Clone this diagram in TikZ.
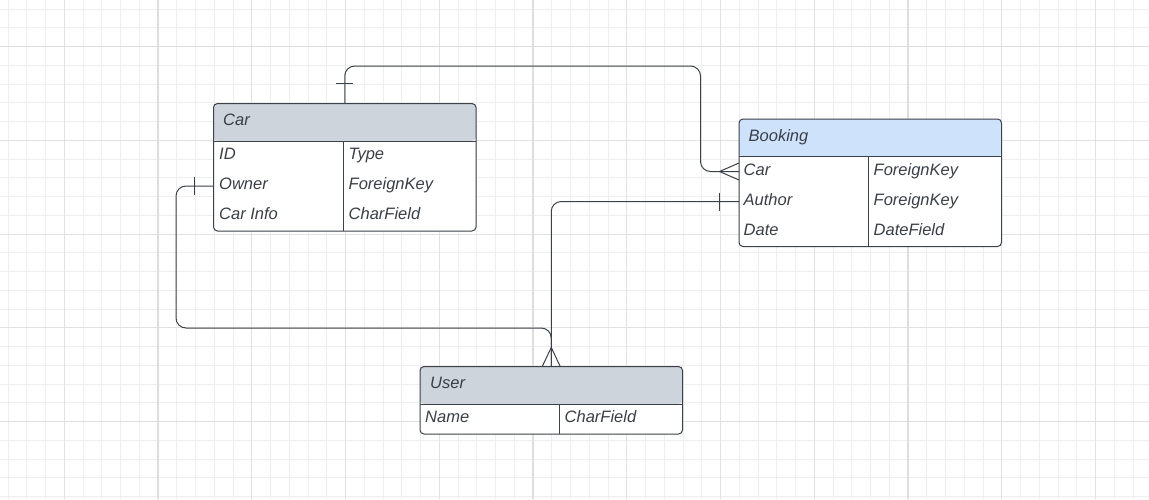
\documentclass[tikz,border=0pt]{standalone}
\usepackage{fontspec}
\setmainfont{Liberation Sans}
\usetikzlibrary{calc}
\definecolor{linecol}{HTML}{3B4149}
\definecolor{txtcol}{HTML}{3A3F47}
\definecolor{hdrgray}{HTML}{CED4DC}
\definecolor{hdrblue}{HTML}{CFE2FC}
\definecolor{gminor}{HTML}{EEEEEE}
\definecolor{gmed}{HTML}{E1E1E1}
\definecolor{gmajor}{HTML}{DEDEDE}
\tikzset{
  gridminor/.style={draw=gminor, line width=0.9pt},
  gridmed/.style={draw=gmed, line width=0.9pt},
  gridmajor/.style={draw=gmajor, line width=1.6pt},
  conn/.style={draw=linecol, line width=1pt, rounded corners=10pt},
  tick/.style={draw=linecol, line width=1pt},
  tbl/.style={draw=linecol, line width=1pt, rounded corners=4pt, fill=white,
    minimum width=262.5pt, inner sep=0pt, outer sep=0pt},
  sepline/.style={draw=linecol, line width=1pt},
  txt/.style={text=txtcol, font=\fontsize{16.5}{19}\selectfont\itshape, inner sep=0pt, anchor=base west},
}
\begin{document}
\begin{tikzpicture}[x=1pt,y=-1pt]
\useasboundingbox (0,0) rectangle (1149,499);
\fill[white] (0,0) rectangle (1149,499);
% grid
\foreach \i in {0,...,60} \draw[gridminor] ({8+18.75*\i},0) -- ++(0,499);
\foreach \i in {0,...,26} \draw[gridminor] (0,{9+18.75*\i}) -- ++(1149,0);
\foreach \i in {0,...,11} \draw[gridmed] ({64.25+93.75*\i},0) -- ++(0,499);
\foreach \i in {0,...,4} \draw[gridmed] (0,{46.5+93.75*\i}) -- ++(1149,0);
\foreach \x in {158.25,533.25,908.25} \draw[gridmajor] (\x,0) -- ++(0,499);
\foreach \y in {46.5,421.5} \draw[gridmajor] (0,\y) -- ++(1149,0);

% Car table
\node[tbl, minimum height=127.5pt,
  path picture={\fill[hdrgray] (path picture bounding box.north west) rectangle ++(262.5,37.5);}]
  (car) at (344.75,167.25) {};
\draw[sepline] ($(car.north west)+(0,37.5)$) -- ($(car.north east)+(0,37.5)$);
\draw[sepline] ($(car.north west)+(130,37.5)$) -- ($(car.south west)+(130,0)$);
\node[txt] (car-h) at ($(car.north west)+(9.5,22.25)$) {Car};
\node[txt] (car-r1a) at ($(car.north west)+(5.5,56)$) {ID};
\node[txt] (car-r1b) at ($(car.north west)+(135,56)$) {Type};
\node[txt] (car-r2a) at ($(car.north west)+(5.5,86)$) {Owner};
\node[txt] (car-r2b) at ($(car.north west)+(135,86)$) {ForeignKey};
\node[txt] (car-r3a) at ($(car.north west)+(5.5,116)$) {Car Info};
\node[txt] (car-r3b) at ($(car.north west)+(135,116)$) {CharField};

% Booking table
\node[tbl, minimum height=127.5pt,
  path picture={\fill[hdrblue] (path picture bounding box.north west) rectangle ++(262.5,37.5);}]
  (bk) at (870.25,182.75) {};
\draw[sepline] ($(bk.north west)+(0,37.5)$) -- ($(bk.north east)+(0,37.5)$);
\draw[sepline] ($(bk.north west)+(129.5,37.5)$) -- ($(bk.south west)+(129.5,0)$);
\node[txt] (bk-h) at ($(bk.north west)+(9.5,22.25)$) {Booking};
\node[txt] (bk-r1a) at ($(bk.north west)+(4.5,56)$) {Car};
\node[txt] (bk-r1b) at ($(bk.north west)+(134.5,56)$) {ForeignKey};
\node[txt] (bk-r2a) at ($(bk.north west)+(4.5,86)$) {Author};
\node[txt] (bk-r2b) at ($(bk.north west)+(134.5,86)$) {ForeignKey};
\node[txt] (bk-r3a) at ($(bk.north west)+(4.5,116)$) {Date};
\node[txt] (bk-r3b) at ($(bk.north west)+(134.5,116)$) {DateField};

% User table
\node[tbl, minimum height=67.5pt,
  path picture={\fill[hdrgray] (path picture bounding box.north west) rectangle ++(262.5,37.5);}]
  (user) at (551.25,400.25) {};
\draw[sepline] ($(user.north west)+(0,37.5)$) -- ($(user.north east)+(0,37.5)$);
\draw[sepline] ($(user.north west)+(139.5,37.5)$) -- ($(user.south west)+(139.5,0)$);
\node[txt] (user-h) at ($(user.north west)+(10,22.25)$) {User};
\node[txt] (user-r1a) at ($(user.north west)+(5,56)$) {Name};
\node[txt] (user-r1b) at ($(user.north west)+(144.5,56)$) {CharField};

% connector anchor points
\coordinate (car-owner) at ($(car.north west)+(0,82.5)$);
\coordinate (bk-car) at ($(bk.north west)+(0,52.5)$);
\coordinate (bk-author) at ($(bk.north west)+(0,82.5)$);
\coordinate (c1) at (700.5,66);
\coordinate (c2) at (176,328);

% Car (one) -- Booking.Car (many)
\draw[conn] (car.north) |- (c1) |- (bk-car);
\draw[tick] ($(car.north)+(-8.5,-20)$) -- ($(car.north)+(8.5,-20)$);
\draw[tick] ($(bk-car)+(-19.5,0)$) -- ($(bk-car)+(0,-8.5)$);
\draw[tick] ($(bk-car)+(-19.5,0)$) -- ($(bk-car)+(0,8.5)$);

% Car.Owner (one) -- User (many)
\draw[conn] (car-owner) -| (c2) -| (user.north);
\draw[tick] ($(car-owner)+(-19,-9)$) -- ($(car-owner)+(-19,9)$);

% Booking.Author (one) -- User (many)
\draw[conn] (bk-author) -| (user.north);
\draw[tick] ($(bk-author)+(-19.5,-9)$) -- ($(bk-author)+(-19.5,9)$);

% crow's foot at User
\draw[tick] ($(user.north)+(0,-19)$) -- ($(user.north)+(-9,0)$);
\draw[tick] ($(user.north)+(0,-19)$) -- ($(user.north)+(9,0)$);
\end{tikzpicture}
\end{document}
